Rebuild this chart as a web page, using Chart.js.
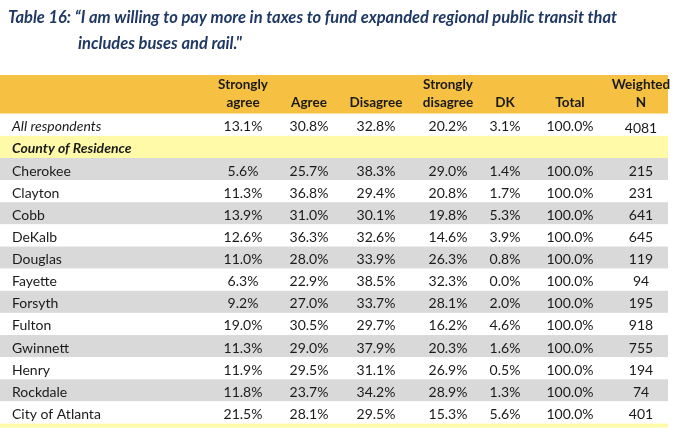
<!DOCTYPE html>
<html>
<head>
<meta charset="utf-8">
<script src="https://cdn.jsdelivr.net/npm/chart.js@4/dist/chart.umd.min.js"></script>
<style>
  html, body { margin: 0; padding: 0; background: #fff; }
  #wrap { width: 680px; height: 428px; position: relative; }
</style>
</head>
<body>
<div id="wrap"><canvas id="table"></canvas></div>
<script>
// Table contents
const headers = [["Strongly", "agree"], ["", "Agree"], ["", "Disagree"], ["Strongly", "disagree"], ["", "DK"], ["", "Total"], ["Weighted", "N"]];
const rowLabels = ["All respondents", "County of Residence", "Cherokee", "Clayton", "Cobb", "DeKalb", "Douglas",
    "Fayette", "Forsyth", "Fulton", "Gwinnett", "Henry", "Rockdale", "City of Atlanta"];
const stronglyAgree = [13.1, null, 5.6, 11.3, 13.9, 12.6, 11.0, 6.3, 9.2, 19.0, 11.3, 11.9, 11.8, 21.5];
const agree = [30.8, null, 25.7, 36.8, 31.0, 36.3, 28.0, 22.9, 27.0, 30.5, 29.0, 29.5, 23.7, 28.1];
const disagree = [32.8, null, 38.3, 29.4, 30.1, 32.6, 33.9, 38.5, 33.7, 29.7, 37.9, 31.1, 34.2, 29.5];
const stronglyDisagree = [20.2, null, 29.0, 20.8, 19.8, 14.6, 26.3, 32.3, 28.1, 16.2, 20.3, 26.9, 28.9, 15.3];
const dk = [3.1, null, 1.4, 1.7, 5.3, 3.9, 0.8, 0.0, 2.0, 4.6, 1.6, 0.5, 1.3, 5.6];
const total = [100, null, 100, 100, 100, 100, 100, 100, 100, 100, 100, 100, 100, 100];
const weightedN = [4081, null, 215, 231, 641, 645, 119, 94, 195, 918, 755, 194, 74, 401];

const columns = [stronglyAgree, agree, disagree, stronglyDisagree, dk, total, weightedN];
// column centres on the x scale (0..680 units)
const colCenters = [243, 309, 376, 448, 505, 570, 641];

const FONT = "Lato, 'Liberation Sans', sans-serif";

function rowFill(i) {
    if (i === 0 || i === rowLabels.length - 1) return "#ffffff";
    if (i === 1) return "#fefaa8";
    return (i % 2 === 0) ? "#d9d9d9" : "#ffffff";
}

const tablePlugin = {
    id: "tablePlugin",
    beforeDraw(chart) {
        const { ctx, scales: { x, y } } = chart;
        const left = x.getPixelForValue(0), right = x.getPixelForValue(668);
        ctx.save();
        // title
        ctx.fillStyle = "#1f3864";
        ctx.font = `italic bold 16.5px ${FONT}`;
        ctx.textBaseline = "middle";
        ctx.textAlign = "left";
        ctx.fillText("Table 16: \u201cI am willing to pay more in taxes to fund expanded regional public transit that", 8, 18);
        ctx.fillText("includes buses and rail.\"", 78, 44);

        // header band
        const hTop = y.getPixelForValue(-1.75), hBot = y.getPixelForValue(0);
        ctx.fillStyle = "#f6c142";
        ctx.fillRect(left, hTop, right - left, hBot - hTop);
        ctx.fillStyle = "#1a1a1a";
        ctx.font = `bold 13.5px ${FONT}`;
        ctx.textAlign = "center";
        headers.forEach((h, c) => {
            const cx = x.getPixelForValue(colCenters[c]);
            ctx.fillText(h[0], cx, y.getPixelForValue(-1.3));
            ctx.fillText(h[1], cx, y.getPixelForValue(-0.5));
        });

        // rows
        rowLabels.forEach((label, i) => {
            const top = y.getPixelForValue(i), bot = y.getPixelForValue(i + 1);
            const mid = (top + bot) / 2 + 2;
            ctx.fillStyle = rowFill(i);
            ctx.fillRect(left, top, right - left, bot - top);
            ctx.fillStyle = "#1a1a1a";
            ctx.textAlign = "left";
            ctx.font = i === 0 ? `italic 14px ${FONT}` : i === 1 ? `italic bold 14px ${FONT}` : `14px ${FONT}`;
            ctx.fillText(label, 12, mid);
            ctx.font = `14px ${FONT}`;
            ctx.textAlign = "center";
            columns.forEach((col, c) => {
                const v = col[i];
                if (v === null) return;
                const txt = c === 6 ? String(v) : v.toFixed(1) + "%";
                ctx.fillText(txt, x.getPixelForValue(colCenters[c]), mid + (c === 6 && i === 0 ? 2 : 0));
            });
        });
        // bottom yellow strip
        const sTop = y.getPixelForValue(rowLabels.length);
        ctx.fillStyle = "#fefaa8";
        ctx.fillRect(left, sTop, right - left, 4);
        ctx.restore();
    }
};

new Chart(document.getElementById("table"), {
    type: "scatter",
    data: { datasets: [{ data: [], pointRadius: 0 }] },
    options: {
        responsive: true,
        maintainAspectRatio: false,
        animation: false,
        layout: { padding: { top: 75, left: 0, right: 0, bottom: 0 } },
        plugins: { legend: { display: false }, tooltip: { enabled: false } },
        scales: {
            x: { type: "linear", min: 0, max: 680, display: false },
            y: { type: "linear", min: -1.75, max: 14.2, reverse: true, display: false }
        }
    },
    plugins: [tablePlugin]
});
</script>
</body>
</html>
